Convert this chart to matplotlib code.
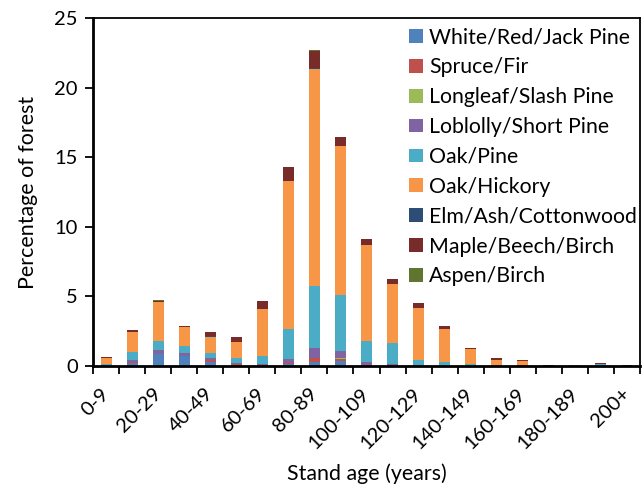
import matplotlib
matplotlib.use("Agg")
import matplotlib.pyplot as plt
import numpy as np

plt.rcParams['font.family'] = ['Lato', 'DejaVu Sans']

categories = ["0-9", "10-19", "20-29", "30-39", "40-49", "50-59", "60-69", "70-79",
              "80-89", "90-99", "100-109", "110-119", "120-129", "130-139", "140-149",
              "150-159", "160-169", "170-179", "180-189", "190-199", "200+"]

white_red_jack_pine = [0.05, 0.25, 0.85, 0.70, 0.30, 0.07, 0.03, 0.14, 0.29, 0.36, 0.00,
                       0.03, 0.00, 0.00, 0.00, 0.00, 0.00, 0.00, 0.00, 0.00, 0.00]
spruce_fir = [0.00, 0.03, 0.03, 0.03, 0.10, 0.05, 0.02, 0.07, 0.29, 0.14, 0.07,
              0.02, 0.02, 0.00, 0.00, 0.00, 0.07, 0.00, 0.00, 0.00, 0.00]
longleaf_slash_pine = [0.00, 0.00, 0.00, 0.00, 0.02, 0.00, 0.00, 0.00, 0.00, 0.07, 0.00,
                       0.00, 0.00, 0.00, 0.00, 0.00, 0.00, 0.00, 0.00, 0.00, 0.00]
loblolly_short_pine = [0.02, 0.15, 0.25, 0.24, 0.19, 0.10, 0.07, 0.29, 0.72, 0.50, 0.22,
                       0.07, 0.07, 0.02, 0.02, 0.02, 0.00, 0.00, 0.00, 0.00, 0.00]
oak_pine = [0.10, 0.60, 0.65, 0.50, 0.36, 0.36, 0.60, 2.16, 4.47, 4.03, 1.51,
            1.55, 0.36, 0.29, 0.14, 0.07, 0.00, 0.00, 0.00, 0.12, 0.00]
oak_hickory = [0.40, 1.45, 2.80, 1.30, 1.15, 1.15, 3.40, 10.66, 15.63, 10.73, 6.92,
               4.25, 3.75, 2.38, 1.08, 0.36, 0.27, 0.00, 0.08, 0.00, 0.00]
elm_ash_cottonwood = [0.00, 0.00, 0.02, 0.00, 0.04, 0.00, 0.00, 0.02, 0.03, 0.00, 0.00,
                      0.00, 0.00, 0.00, 0.00, 0.00, 0.00, 0.00, 0.00, 0.00, 0.00]
maple_beech_birch = [0.05, 0.10, 0.08, 0.14, 0.30, 0.36, 0.58, 1.00, 1.22, 0.65, 0.43,
                     0.36, 0.36, 0.22, 0.07, 0.14, 0.07, 0.08, 0.00, 0.07, 0.10]
aspen_birch = [0.00, 0.02, 0.08, 0.00, 0.00, 0.00, 0.00, 0.00, 0.07, 0.00, 0.00,
               0.00, 0.00, 0.00, 0.00, 0.00, 0.00, 0.00, 0.00, 0.00, 0.00]

series_names = ["White/Red/Jack Pine", "Spruce/Fir", "Longleaf/Slash Pine",
                "Loblolly/Short Pine", "Oak/Pine", "Oak/Hickory",
                "Elm/Ash/Cottonwood", "Maple/Beech/Birch", "Aspen/Birch"]
series_values = [white_red_jack_pine, spruce_fir, longleaf_slash_pine, loblolly_short_pine,
                 oak_pine, oak_hickory, elm_ash_cottonwood, maple_beech_birch, aspen_birch]
colors = ["#4F81BD", "#C0504D", "#9BBB59", "#8064A2", "#4BACC6", "#F79646",
          "#2C4D75", "#772C2A", "#5F7530"]

fig = plt.figure(figsize=(6.42, 4.92), dpi=100)
ax = fig.add_axes([0.1449, 0.2561, 0.852, 0.7063])

x = np.arange(len(categories))
bottom = np.zeros(len(categories))
for name, vals, c in zip(series_names, series_values, colors):
    v = np.array(vals)
    ax.bar(x, v, width=0.42, bottom=bottom, color=c, label=name, linewidth=0)
    bottom += v

ax.set_xlim(-0.5, len(categories) - 0.5)
ax.set_ylim(0, 25)
ax.set_yticks([0, 5, 10, 15, 20, 25])
ax.tick_params(axis='y', direction='out', length=6, width=1.3, labelsize=14.5, pad=5)

ax.set_xticks(x[::2])
ax.set_xticklabels(categories[::2], rotation=45, ha='right', va='center',
                   rotation_mode='anchor', fontsize=14.5)
ax.set_xticks(np.arange(len(categories) + 1) - 0.5, minor=True)
ax.tick_params(axis='x', which='major', length=0, pad=18)
ax.tick_params(axis='x', which='minor', direction='out', length=6, width=1.3)

for s in ['left', 'bottom']:
    ax.spines[s].set_linewidth(2)
for s in ['top', 'right']:
    ax.spines[s].set_linewidth(1.3)

ax.set_ylabel("Percentage of forest", fontsize=15.4, labelpad=12)
ax.set_xlabel("Stand age (years)", fontsize=15.4, labelpad=8)

leg = ax.legend(loc='upper left', bbox_to_anchor=(403 / 642, 1 - 21 / 492),
                bbox_transform=fig.transFigure, fontsize=15.3,
                frameon=False, handlelength=0.62, handleheight=0.62, handletextpad=0.3,
                labelspacing=0.465, borderaxespad=0.0, borderpad=0.3)

fig.savefig("out.png", dpi=100)
